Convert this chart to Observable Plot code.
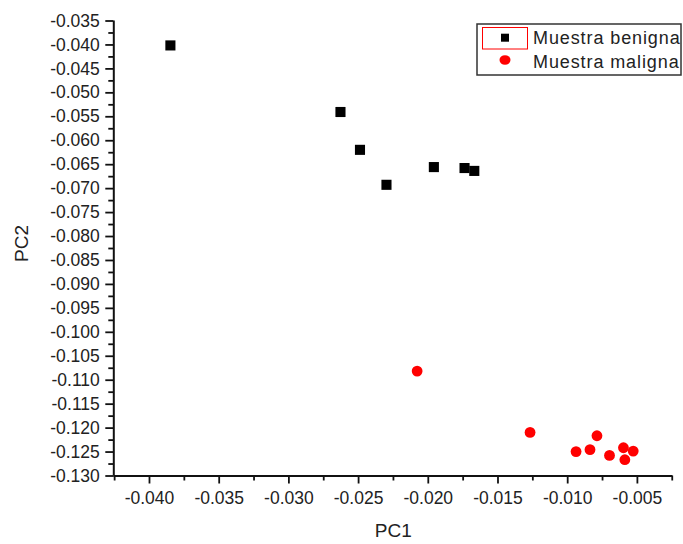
<!DOCTYPE html>
<html>
<head>
<meta charset="utf-8">
<script src="https://cdn.jsdelivr.net/npm/d3@7"></script>
<script src="https://cdn.jsdelivr.net/npm/@observablehq/plot@0.6"></script>
<style>
  html, body { margin: 0; padding: 0; background: #fff; }
  #chart { width: 683px; height: 544px; }
</style>
</head>
<body>
<div id="chart"></div>
<script>
// Data
const benignPC1 = [-0.0385, -0.0263, -0.0249, -0.0230, -0.0196, -0.0174, -0.0167];
const benignPC2 = [-0.0401, -0.0540, -0.0619, -0.0692, -0.0655, -0.0657, -0.0663];
const malignPC1 = [-0.0208, -0.0127, -0.0094, -0.0084, -0.0079, -0.0070, -0.0060, -0.0059, -0.0053];
const malignPC2 = [-0.1081, -0.1209, -0.1249, -0.1245, -0.1216, -0.1257, -0.1241, -0.1266, -0.1248];
const seriesNames = ["Muestra benigna", "Muestra maligna"];
const xTicks = [-0.040, -0.035, -0.030, -0.025, -0.020, -0.015, -0.010, -0.005];
const xMinor = [-0.0425, -0.0375, -0.0325, -0.0275, -0.0225, -0.0175, -0.0125, -0.0075, -0.0025];
const yTicks = [-0.130, -0.125, -0.120, -0.115, -0.110, -0.105, -0.100, -0.095, -0.090, -0.085, -0.080,
                -0.075, -0.070, -0.065, -0.060, -0.055, -0.050, -0.045, -0.040, -0.035];
const yMinor = yTicks.slice(1).map(t => t - 0.0025);
const xDomain = [-0.04256, -0.00246];
const yDomain = [-0.130, -0.035];
const xTitle = "PC1";
const yTitle = "PC2";

const benign = benignPC1.map((x, i) => ({x, y: benignPC2[i]}));
const malign = malignPC1.map((x, i) => ({x, y: malignPC2[i]}));
const fmt = d => d.toFixed(3);

const plot = Plot.plot({
  width: 683,
  height: 544,
  marginLeft: 113.3,
  marginRight: 10.7,
  marginTop: 20.5,
  marginBottom: 68.5,
  inset: 0,
  style: {fontFamily: "'Liberation Sans', Arial, sans-serif", fontSize: "17.5px", color: "#222", background: "#fff"},
  x: {domain: xDomain},
  y: {domain: yDomain},
  marks: [
    Plot.axisX({ticks: xTicks, tickFormat: fmt, tickSize: 8, tickPadding: 8, strokeWidth: 1.8, stroke: "#111", label: null}),
    Plot.axisX({ticks: xMinor, tickFormat: () => "", tickSize: 5, strokeWidth: 1.8, stroke: "#111", label: null}),
    Plot.axisY({ticks: yTicks, tickFormat: fmt, tickSize: 8, tickPadding: 6, strokeWidth: 1.8, stroke: "#111", label: null}),
    Plot.axisY({ticks: yMinor, tickFormat: () => "", tickSize: 5, strokeWidth: 1.8, stroke: "#111", label: null}),
    Plot.ruleY([yDomain[0]], {stroke: "#111", strokeWidth: 2}),
    Plot.ruleX([xDomain[0]], {stroke: "#111", strokeWidth: 2}),
    Plot.dot(benign, {x: "x", y: "y", symbol: "square", r: 5.7, fill: "#000", stroke: "none"}),
    Plot.dot(malign, {x: "x", y: "y", symbol: "circle", r: 5.4, fill: "#ff0000", stroke: "none"}),
    Plot.text([xTitle], {frameAnchor: "bottom", dy: 55, lineAnchor: "middle", fontSize: 19, fill: "#222"}),
    Plot.text([yTitle], {frameAnchor: "left", dx: -92, dy: 13.5, rotate: -90, lineAnchor: "middle", fontSize: 19, fill: "#222"})
  ]
});

// Legend drawn inside the plot area (top right)
const svg = d3.select(plot);
const lg = svg.append("g")
  .attr("font-family", "'Liberation Sans', Arial, sans-serif")
  .attr("text-anchor", "start");
lg.append("rect").attr("x", 477).attr("y", 24).attr("width", 204).attr("height", 51)
  .attr("fill", "#fff").attr("stroke", "#333").attr("stroke-width", 1.5);
lg.append("rect").attr("x", 482.5).attr("y", 27.5).attr("width", 45).attr("height", 21.5)
  .attr("fill", "none").attr("stroke", "#ff0000").attr("stroke-width", 1);
lg.append("rect").attr("x", 501).attr("y", 33.7).attr("width", 8).attr("height", 8).attr("fill", "#000");
lg.append("ellipse").attr("cx", 505).attr("cy", 60).attr("rx", 5.5).attr("ry", 4.8).attr("fill", "#ff0000");
lg.append("text").attr("x", 533).attr("y", 43.5).attr("font-size", 18).attr("letter-spacing", "0.9px")
  .attr("fill", "#222").text(seriesNames[0]);
lg.append("text").attr("x", 533).attr("y", 67.5).attr("font-size", 18).attr("letter-spacing", "0.9px")
  .attr("fill", "#222").text(seriesNames[1]);

document.getElementById("chart").appendChild(plot);
</script>
</body>
</html>
